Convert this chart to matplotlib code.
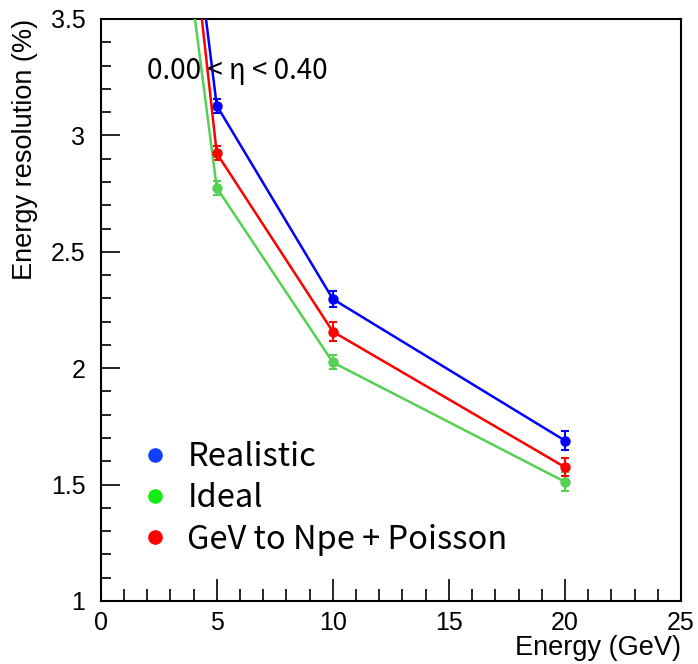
import matplotlib
matplotlib.use("Agg")
import matplotlib.pyplot as plt
from matplotlib.lines import Line2D
from matplotlib.ticker import MultipleLocator

energy = [2, 5, 10, 20]
realistic = [5.53, 3.128, 2.297, 1.689]
realistic_err = [0.05, 0.03, 0.035, 0.04]
ideal = [5.09, 2.775, 2.025, 1.512]
ideal_err = [0.05, 0.03, 0.03, 0.04]
poisson = [5.62, 2.923, 2.157, 1.575]
poisson_err = [0.05, 0.03, 0.04, 0.04]
labels = ["Realistic", "Ideal", "GeV to Npe + Poisson"]
line_colors = ["#0000ff", "#55d055", "#ff0000"]
legend_colors = ["#1040ff", "#11ee11", "#ff0000"]

W, H = 698, 664
fig = plt.figure(figsize=(W / 100, H / 100), dpi=100)
L, R, T, B = 100.7, 681, 19, 601
ax = fig.add_axes([L / W, 1 - B / H, (R - L) / W, (B - T) / H])

for y, e, c in zip([realistic, ideal, poisson], [realistic_err, ideal_err, poisson_err], line_colors):
    ax.errorbar(energy, y, yerr=e, color=c, lw=1.8, marker="o", ms=6.5,
                capsize=3, capthick=1.5, elinewidth=1.5, zorder=3)

ax.set_xlim(0, 25)
ax.set_ylim(1, 3.5)
ax.xaxis.set_major_locator(MultipleLocator(5))
ax.xaxis.set_minor_locator(MultipleLocator(1))
ax.yaxis.set_major_locator(MultipleLocator(0.5))
ax.yaxis.set_minor_locator(MultipleLocator(0.1))
ax.tick_params(which="both", direction="in", top=False, right=False, width=1.2)
ax.tick_params(axis="x", which="major", length=16)
ax.tick_params(axis="x", which="minor", length=9)
ax.tick_params(axis="y", which="major", length=14)
ax.tick_params(axis="y", which="minor", length=7.5)
for sp in ax.spines.values():
    sp.set_linewidth(1.5)

tickfont = dict(family="Liberation Sans", size=18)
ax.set_xticks([0, 5, 10, 15, 20, 25])
ax.set_xticklabels(["0", "5", "10", "15", "20", "25"], **tickfont)
ax.set_yticks([1, 1.5, 2, 2.5, 3, 3.5])
ax.set_yticklabels(["1", "1.5", "2", "2.5", "3", "3.5"], **tickfont)
ax.tick_params(axis="x", pad=7)
ax.tick_params(axis="y", pad=11)

ax.set_xlabel("Energy (GeV)", family="Liberation Sans", size=19.5, loc="right", labelpad=0)
ax.set_ylabel("Energy resolution (%)", family="Liberation Sans", size=19.5, loc="top", labelpad=9)

fig.text(147 / W, 1 - 71 / H, "0.00 < η < 0.40", family=["Noto Sans CJK KR", "DejaVu Sans"],
         size=20, va="center", ha="left")

handles = [Line2D([], [], ls="none", marker="o", ms=9.5, color=c) for c in legend_colors]
leg = ax.legend(handles, labels, loc="upper left", frameon=False,
                bbox_to_anchor=(122 / W, 1 - 425 / H), bbox_transform=fig.transFigure,
                prop=dict(family="Noto Sans CJK KR", size=23.5), handlelength=1.0,
                handletextpad=0.5, labelspacing=0.28, borderpad=0)

fig.savefig("out.png", dpi=100)
